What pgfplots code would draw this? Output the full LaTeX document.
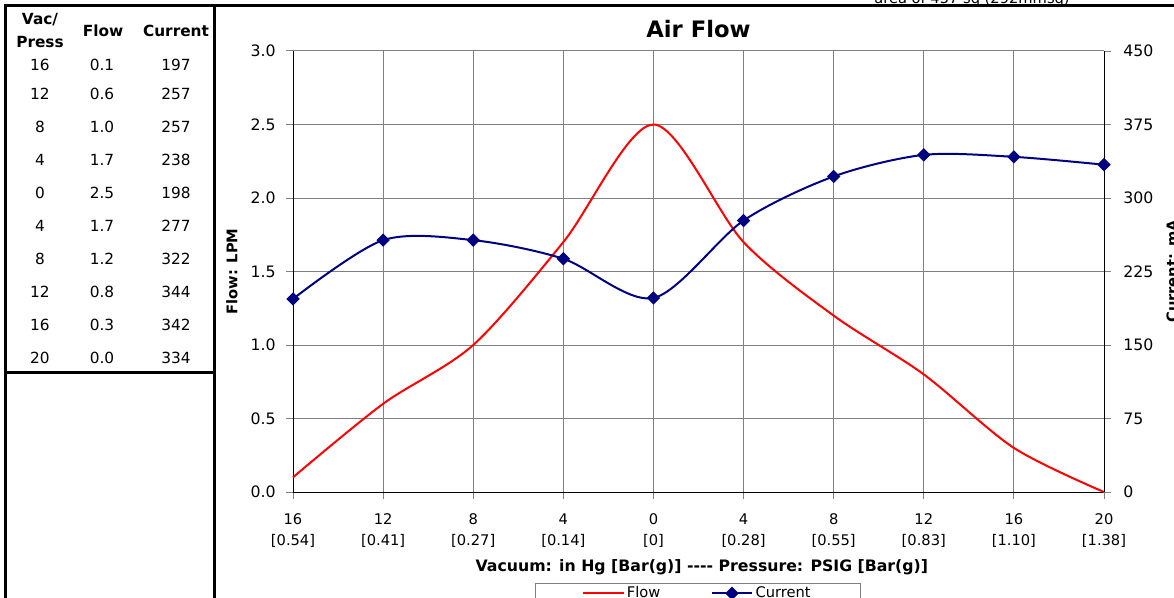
\documentclass[border=0pt]{standalone}
\usepackage{pgfplots}
\pgfplotsset{compat=1.18}
\usepackage{pgfplotstable}
\usepackage{fontspec}
\setmainfont{DejaVu Sans}
\definecolor{navy}{RGB}{0,0,128}
\definecolor{gridgray}{RGB}{128,128,128}
\definecolor{flowred}{RGB}{255,0,0}

\pgfplotstableread{
x flow current
0 0.1 197
1 0.6 257
2 1.0 257
3 1.7 238
4 2.5 198
5 1.7 277
6 1.2 322
7 0.8 344
8 0.3 342
9 0.0 334
}\airdata

\pgfplotsset{
  common/.style={
    scale only axis, width=608.25pt, height=330.75pt,
    at={(219.75pt,-369pt)}, anchor=south west,
    xmin=0, xmax=9,
    tick align=outside, major tick length=5pt,
    tick style={gridgray, line width=0.75pt},
    axis line style={black, line width=0.75pt, -},
    /pgf/number format/assume math mode=true,
    ticklabel style={font=\fontsize{11}{15.75}\selectfont},
    yticklabel style={font=\fontsize{11.8}{14}\selectfont},
    clip=false,
    legend image code/.code={\draw[mark repeat=2,mark phase=2,##1] plot coordinates {(0pt,0pt) (15pt,0pt) (30pt,0pt)};},
  }
}

\begin{document}
\begin{tikzpicture}
\begin{scope}[x=0.75pt,y=-0.75pt]
  % table and sheet borders
  \draw[line width=2.25pt] (5,598) -- (5,6) -- (1174,6);
  \draw[line width=2.25pt] (214,6) -- (214,598);
  \draw[line width=2.25pt] (5,373) -- (214,373);
  \node[anchor=base, font=\fontsize{11}{13}\selectfont] at (972,3.5) {area of 457 sq (292mmsq)};
  % table text
  \begin{scope}[font=\fontsize{11.5}{14}\selectfont]
    \node[font=\fontsize{11.5}{14}\selectfont\bfseries] at (40,20) {Vac/};
    \node[font=\fontsize{11.5}{14}\selectfont\bfseries] at (40,42) {Press};
    \node[font=\fontsize{11.5}{14}\selectfont\bfseries] at (103,31) {Flow};
    \node[font=\fontsize{11.5}{14}\selectfont\bfseries] at (176,31) {Current};
    \foreach \p/\f/\c/\yy in {16/0.1/197/65, 12/0.6/257/94, 8/1.0/257/127, 4/1.7/238/160, 0/2.5/198/193, 4/1.7/277/226, 8/1.2/322/259, 12/0.8/344/292, 16/0.3/342/325, 20/0.0/334/358}{
      \node at (40,\yy) {\p};
      \node at (102,\yy) {\f};
      \node at (176,\yy) {\c};
    }
  \end{scope}
\end{scope}

\begin{axis}[common,
  ymin=0, ymax=3,
  axis x line*=bottom, axis y line*=left,
  xtick={0,...,9},
  xticklabels={{16\\{[0.54]}},{12\\{[0.41]}},{8\\{[0.27]}},{4\\{[0.14]}},{0\\{[0]}},{4\\{[0.28]}},{8\\{[0.55]}},{12\\{[0.83]}},{16\\{[1.10]}},{20\\{[1.38]}}},
  xticklabel style={align=center, yshift=-7.5pt},
  ytick={0,0.5,...,3.0},
  yticklabel style={/pgf/number format/.cd, fixed, fixed zerofill, precision=1, /tikz/.cd, xshift=-4.5pt},
  grid=major, grid style={gridgray, line width=0.75pt},
  title={Air Flow},
  title style={font=\fontsize{17}{20}\selectfont\bfseries, at={(axis description cs:0.5,1)}, anchor=base, yshift=3.75pt},
  xlabel={Vacuum: in Hg [Bar(g)] -{}-{}-{}- Pressure: PSIG [Bar(g)]},
  xlabel style={font=\fontsize{11.8}{13}\selectfont\bfseries, at={(axis description cs:0.5,0)}, anchor=base, yshift=-59.25pt, xshift=2.5pt},
  ylabel={Flow: LPM},
  ylabel style={font=\fontsize{11}{13}\selectfont\bfseries, at={([xshift=-45.75pt]axis description cs:0,0.5)}, anchor=center},
  legend columns=2,
  legend style={at={(axis description cs:0.2984,-0.2063)}, anchor=north west, draw=gridgray, line width=0.75pt, font=\fontsize{11}{13}\selectfont, inner xsep=35pt, inner ysep=0.5pt, /tikz/every even column/.append style={column sep=36pt}},
]
\addplot[flowred, line width=1.5pt, smooth, tension=0.5] table[x=x, y=flow] {\airdata};
\addlegendentry{Flow}
\addlegendimage{navy, line width=1.5pt, mark=square*, mark size=2.8pt, mark options={rotate=45}}
\addlegendentry{Current}
\end{axis}

\begin{axis}[common,
  ymin=0, ymax=450,
  axis x line=none, axis y line*=right,
  ytick={0,75,...,450},
  yticklabel style={xshift=6pt},
  ylabel={Current: mA},
  ylabel style={font=\fontsize{11}{13}\selectfont\bfseries, at={([xshift=51pt]axis description cs:1,0.5)}, anchor=center},
]
\addplot[navy, line width=1.5pt, smooth, tension=0.5, mark=square*, mark size=2.8pt, mark options={rotate=45}] table[x=x, y=current] {\airdata};
\end{axis}

\pgfresetboundingbox
\path[use as bounding box] (0,0) rectangle (880.5pt,-448.5pt);
\end{tikzpicture}
\end{document}
